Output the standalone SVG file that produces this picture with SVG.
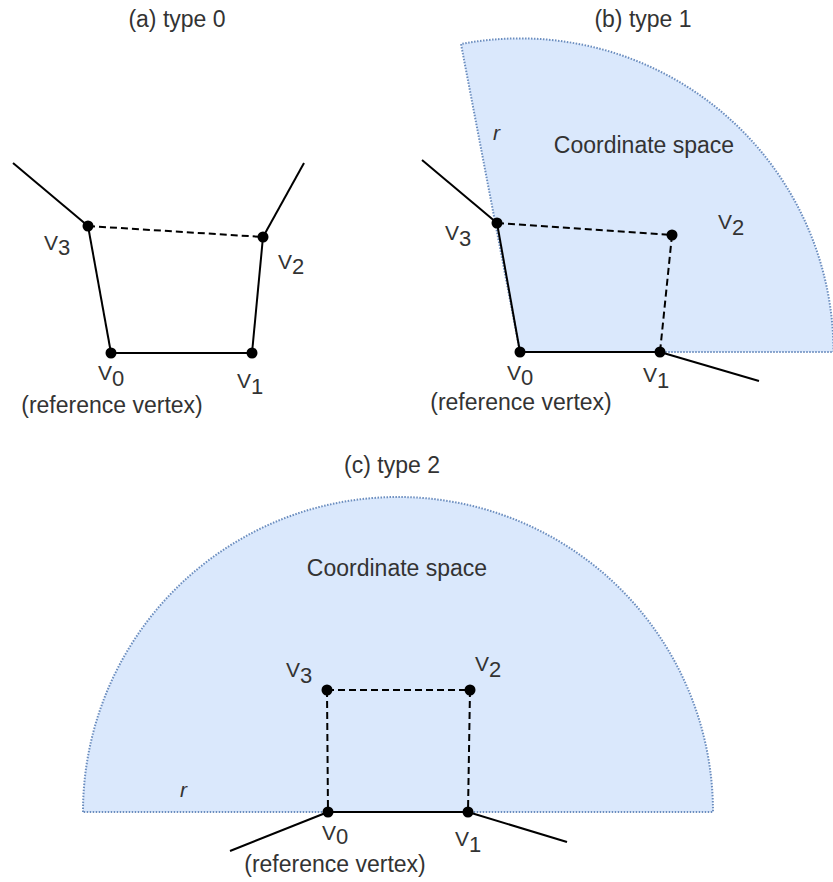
<svg xmlns="http://www.w3.org/2000/svg" width="833" height="882" viewBox="0 0 833 882">
<style>
text{font-family:"Liberation Sans",Arial,sans-serif;fill:#333}
.t{font-size:23px}
.c{text-anchor:middle}
.v{font-size:21px}
.s{font-size:22px}
.r{font-size:21px;font-style:italic}
.region{fill:#dae8fc;stroke:#6c8ebf;stroke-width:2;stroke-dasharray:1.5 1.5}
.e{stroke:#000;stroke-width:2;fill:none}
.d{stroke:#000;stroke-width:2;fill:none;stroke-dasharray:7 4}
.dot{fill:#000}
</style>
<rect width="833" height="882" fill="#fff"/>

<g id="regions">
<path id="region-b" class="region" d="M520,352 L461,44 A313.5,313.5 0 0 1 833.5,352 Z"/>
<path id="region-c" class="region" d="M83,812 A315,315 0 0 1 713,812 Z"/>
</g>

<g id="titles">
<text class="t c" x="177" y="27">(a) type 0</text>
<text class="t c" x="643" y="27">(b) type 1</text>
<text class="t c" x="392" y="473">(c) type 2</text>
<text class="t c" x="644" y="153">Coordinate space</text>
<text class="t c" x="397" y="576">Coordinate space</text>
<text class="r" x="493" y="140">r</text>
<text class="r" x="180" y="797">r</text>
</g>

<g id="connectors">
<!-- panel a -->
<line class="e" x1="13" y1="163" x2="88" y2="226"/>
<line class="e" x1="263" y1="237" x2="304" y2="163"/>
<line class="d" x1="88" y1="226" x2="263" y2="237"/>
<line class="e" x1="88" y1="226" x2="111" y2="353"/>
<line class="e" x1="111" y1="353" x2="252" y2="353"/>
<line class="e" x1="252" y1="353" x2="263" y2="237"/>
<!-- panel b -->
<line class="e" x1="422" y1="160" x2="497" y2="223"/>
<line class="e" x1="660" y1="352" x2="759" y2="381"/>
<line class="d" x1="497" y1="223" x2="672" y2="235"/>
<line class="d" x1="672" y1="235" x2="660" y2="352"/>
<line class="e" x1="497" y1="223" x2="520" y2="352"/>
<line class="e" x1="520" y1="352" x2="660" y2="352"/>
<!-- panel c -->
<line class="e" x1="230" y1="851" x2="328" y2="812"/>
<line class="e" x1="468" y1="812" x2="567" y2="842"/>
<line class="d" x1="327" y1="690" x2="470" y2="690"/>
<line class="d" x1="327" y1="690" x2="328" y2="812"/>
<line class="d" x1="470" y1="690" x2="468" y2="812"/>
<line class="e" x1="328" y1="812" x2="468" y2="812"/>
</g>

<g id="a-v0"><circle class="dot" cx="111" cy="353" r="5.5"/><text x="98" y="380"><tspan class="v">V</tspan><tspan class="s" dy="6">0</tspan></text><text class="t c" x="112" y="413">(reference vertex)</text></g>
<g id="a-v1"><circle class="dot" cx="252" cy="353" r="5.5"/><text x="237" y="388"><tspan class="v">V</tspan><tspan class="s" dy="6">1</tspan></text></g>
<g id="a-v2"><circle class="dot" cx="263" cy="237" r="5.5"/><text x="278" y="269"><tspan class="v">V</tspan><tspan class="s" dy="5">2</tspan></text></g>
<g id="a-v3"><circle class="dot" cx="88" cy="226" r="5.5"/><text x="44" y="250"><tspan class="v">V</tspan><tspan class="s" dy="5">3</tspan></text></g>

<g id="b-v0"><circle class="dot" cx="520" cy="352" r="5.5"/><text x="507" y="380"><tspan class="v">V</tspan><tspan class="s" dy="5">0</tspan></text><text class="t c" x="521" y="410">(reference vertex)</text></g>
<g id="b-v1"><circle class="dot" cx="660" cy="352" r="5.5"/><text x="643" y="382"><tspan class="v">V</tspan><tspan class="s" dy="6">1</tspan></text></g>
<g id="b-v2"><circle class="dot" cx="672" cy="235" r="5.5"/><text x="718" y="229"><tspan class="v">V</tspan><tspan class="s" dy="6">2</tspan></text></g>
<g id="b-v3"><circle class="dot" cx="497" cy="223" r="5.5"/><text x="445" y="240"><tspan class="v">V</tspan><tspan class="s" dy="6">3</tspan></text></g>

<g id="c-v0"><circle class="dot" cx="328" cy="812" r="5.5"/><text x="322" y="840"><tspan class="v">V</tspan><tspan class="s" dy="4">0</tspan></text><text class="t c" x="335" y="872">(reference vertex)</text></g>
<g id="c-v1"><circle class="dot" cx="468" cy="812" r="5.5"/><text x="455" y="846"><tspan class="v">V</tspan><tspan class="s" dy="6">1</tspan></text></g>
<g id="c-v2"><circle class="dot" cx="470" cy="690" r="5.5"/><text x="475" y="671"><tspan class="v">V</tspan><tspan class="s" dy="6">2</tspan></text></g>
<g id="c-v3"><circle class="dot" cx="327" cy="690" r="5.5"/><text x="286" y="677"><tspan class="v">V</tspan><tspan class="s" dy="6">3</tspan></text></g>
</svg>
